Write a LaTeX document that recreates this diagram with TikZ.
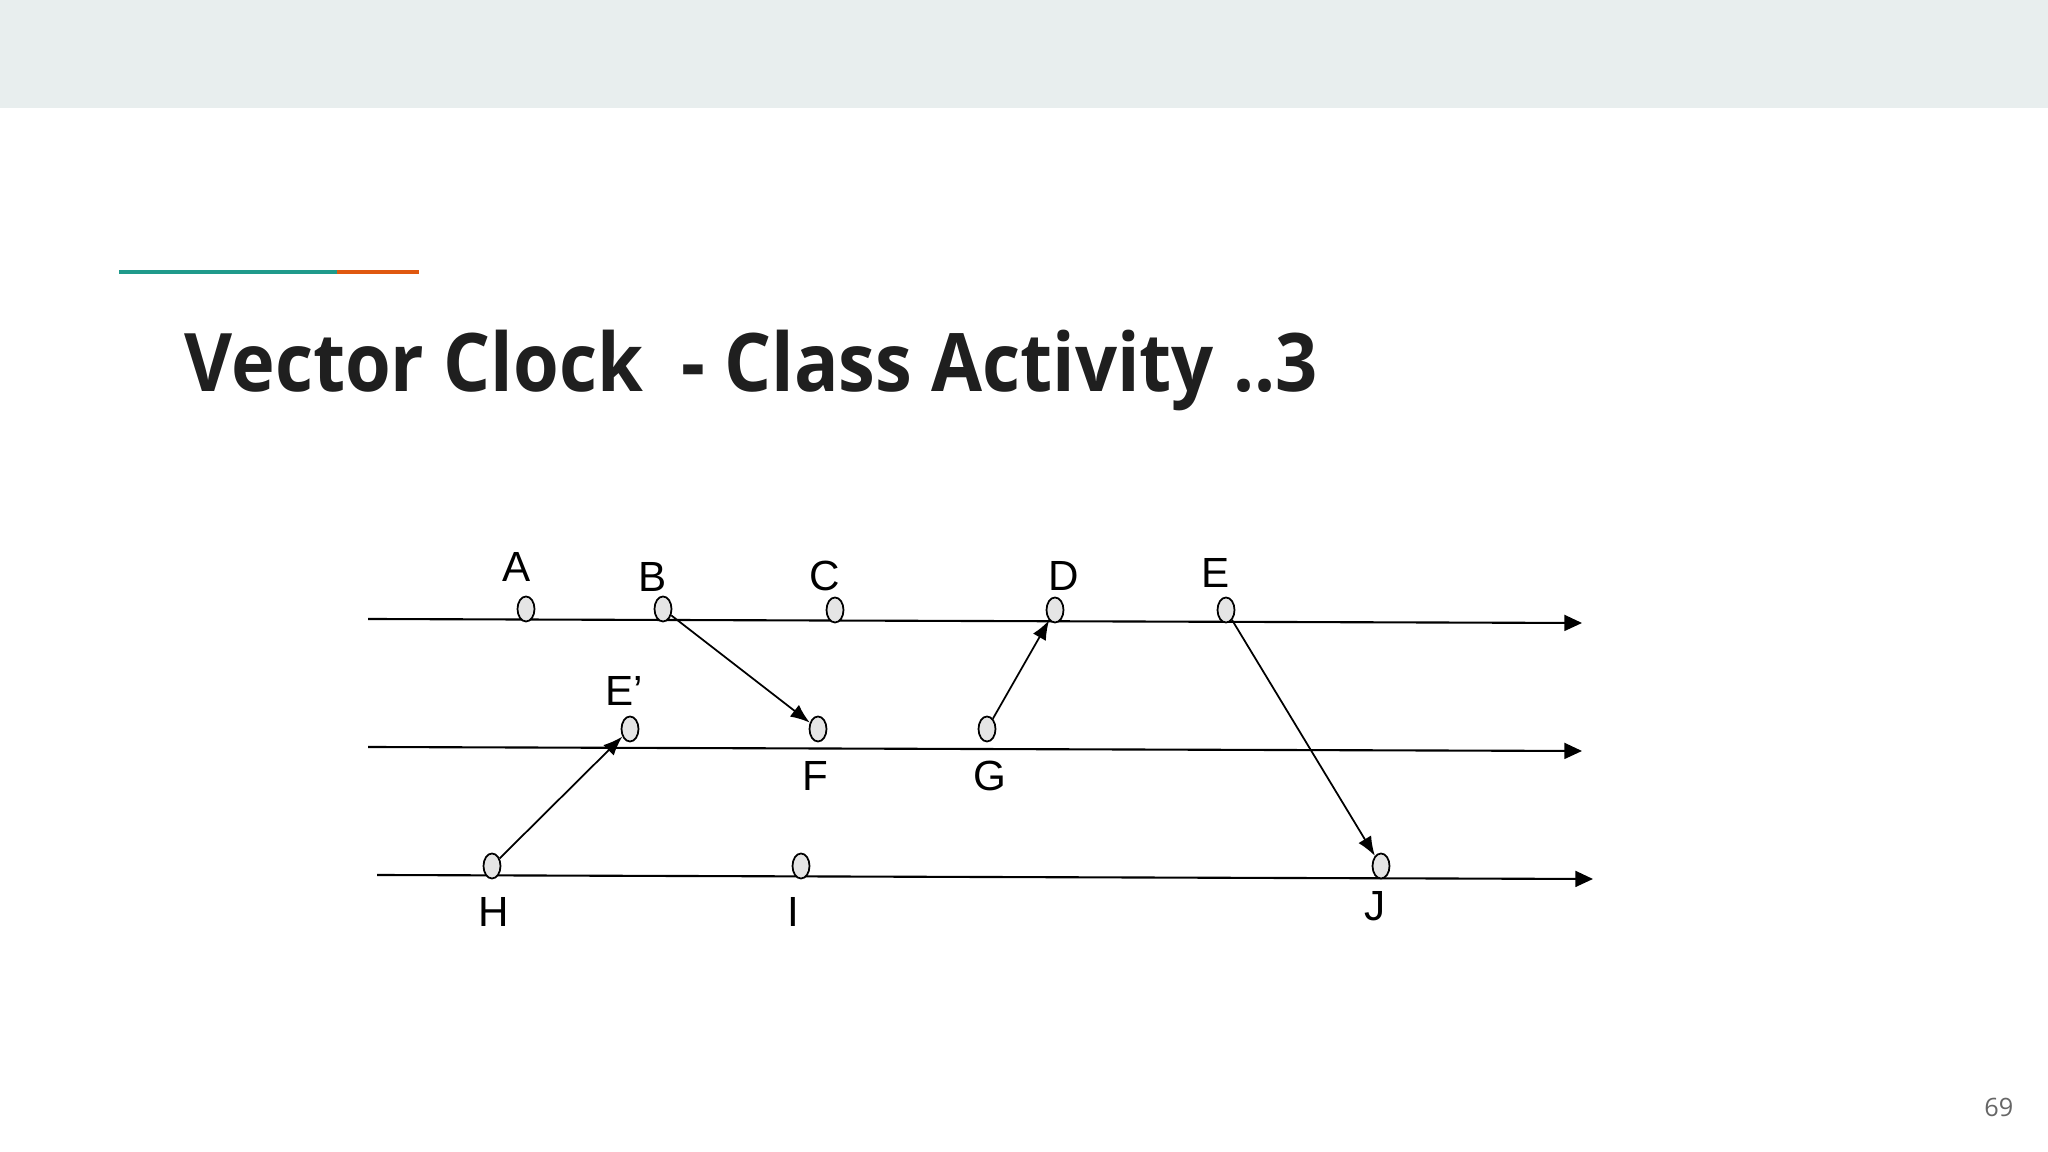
\documentclass[tikz,border=0pt]{standalone}
\usepackage{fontspec}
\setmainfont{Liberation Sans}
\newfontfamily\slidefont{Open Sans}
\usetikzlibrary{shapes.geometric,arrows.meta}
\definecolor{bandgray}{HTML}{E8EEEE}
\definecolor{accteal}{HTML}{1F9A8B}
\definecolor{accorange}{HTML}{E0580F}
\definecolor{pagegray}{HTML}{666666}

\begin{document}
\begin{tikzpicture}
[x=0.1mm,y=-0.1mm,
 evt/.style={draw,ellipse,fill=black!10,minimum width=1.7mm,minimum height=2.5mm,inner sep=0pt,line width=.5pt},
 lbl/.style={font=\fontsize{12}{14}\selectfont},
 tline/.style={line width=.6pt,-{Triangle[length=5pt,width=4.5pt]}},
 msg/.style={line width=.5pt,-{Latex[length=5.5pt,width=4.2pt]}}]
\useasboundingbox (0,0) rectangle (2048,1152);

% slide header
\fill[bandgray] (0,0) rectangle (2048,108);
\draw[accteal,line width=1.2pt] (119,272) -- (337,272);
\draw[accorange,line width=1.2pt] (337,272) -- (419,272);
\node[anchor=base west,inner sep=0pt,font=\slidefont\bfseries\fontsize{23}{27}\selectfont,text=black!88] (title) at (184,392) {\scalebox{0.915}[1]{Vector Clock\ \ - Class Activity ..3}};
\node[anchor=base east,inner sep=0pt,font=\slidefont\fontsize{7.2}{9}\selectfont,text=pagegray] (pnum) at (2014,1117) {69};

% process lines
\coordinate (p1s) at (368,619);
\coordinate (p1e) at (1582,623);
\coordinate (p2s) at (368,747);
\coordinate (p2e) at (1582,751);
\coordinate (p3s) at (377,875);
\coordinate (p3e) at (1593,879);
\draw[tline] (p1s) -- (p1e);
\draw[tline] (p2s) -- (p2e);
\draw[tline] (p3s) -- (p3e);

% events
\node[evt] (A) at (526,609) {};
\node[lbl] (lA) at (517,567) {A};
\node[evt] (B) at (663,609) {};
\node[lbl] (lB) at (653,577) {B};
\node[evt] (C) at (835,610) {};
\node[lbl] (lC) at (825,576) {C};
\node[evt] (D) at (1055,610) {};
\node[lbl] (lD) at (1064,576) {D};
\node[evt] (E) at (1226,610) {};
\node[lbl] (lE) at (1216,573) {E};

\node[evt] (Ep) at (630,729) {};
\node[lbl] (lEp) at (624,691) {E’};
\node[evt] (F) at (818,729) {};
\node[lbl] (lF) at (815,776) {F};
\node[evt] (G) at (987,729) {};
\node[lbl] (lG) at (990,776) {G};

\node[evt] (H) at (492,866) {};
\node[lbl] (lH) at (494,912) {H};
\node[evt] (I) at (801,866) {};
\node[lbl] (lI) at (793,912) {I};
\node[evt] (J) at (1381,866) {};
\node[lbl] (lJ) at (1375,906) {J};

% messages
\foreach \from/\to in {B/F,H/Ep,G/D,E/J}
\draw[msg] (\from) -- (\to);
\end{tikzpicture}
\end{document}
